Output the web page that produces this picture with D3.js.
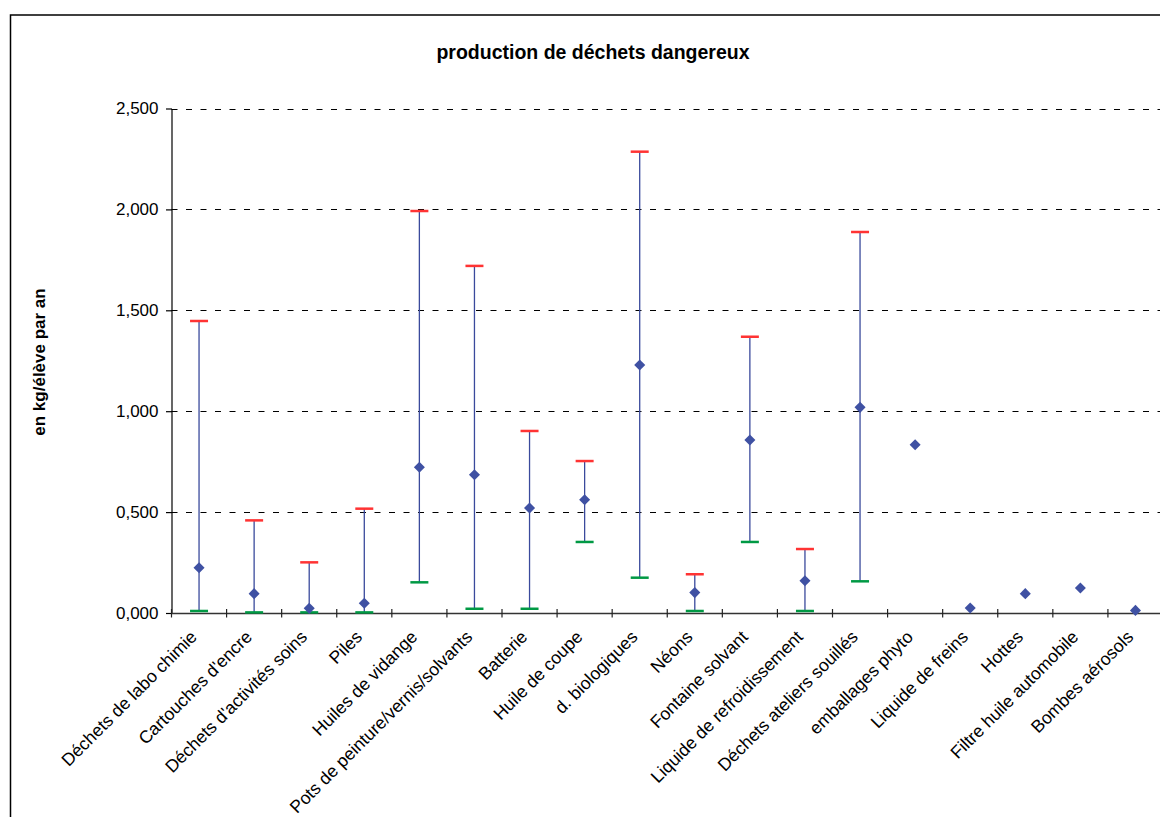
<!DOCTYPE html>
<html>
<head>
<meta charset="utf-8">
<script src="https://cdn.jsdelivr.net/npm/d3@7"></script>
<style>
  html, body { margin: 0; padding: 0; background: #fff; }
  svg { display: block; }
  text { font-family: "Liberation Sans", Arial, sans-serif; fill: #000; }
</style>
</head>
<body>
<svg id="chart" width="1160" height="817"></svg>
<script>
const categories = [
  "Déchets de labo chimie", "Cartouches d'encre", "Déchets d'activités soins", "Piles",
  "Huiles de vidange", "Pots de peinture/vernis/solvants", "Batterie", "Huile de coupe",
  "d. biologiques", "Néons", "Fontaine solvant", "Liquide de refroidissement",
  "Déchets ateliers souillés", "emballages phyto", "Liquide de freins", "Hottes",
  "Filtre huile automobile", "Bombes aérosols"
];
const highValues = [1.447, 0.459, 0.251, 0.517, 1.992, 1.720, 0.902, 0.753, 2.286, 0.192, 1.369, 0.317, 1.888, null, null, null, null, null];
const lowValues  = [0.010, 0.003, 0.003, 0.003, 0.152, 0.021, 0.021, 0.352, 0.175, 0.010, 0.352, 0.010, 0.157, null, null, null, null, null];
const meanValues = [0.224, 0.096, 0.023, 0.048, 0.722, 0.685, 0.520, 0.561, 1.229, 0.101, 0.857, 0.160, 1.019, 0.834, 0.025, 0.096, 0.124, 0.013];
const yTicks = [0, 0.5, 1.0, 1.5, 2.0, 2.5];
const titleText = "production de déchets dangereux";
const yTitleText = "en kg/élève par an";

const svg = d3.select("#chart");
const pLeft = 171.5, pRight = 1163, pTop = 108.5, pBottom = 613;

const x = d3.scaleBand().domain(categories).range([pLeft, pRight]).padding(0);
const y = d3.scaleLinear().domain([0, 2.5]).range([pBottom, pTop]);
const locale = d3.formatLocale({decimal: ",", thousands: ".", grouping: [3], currency: ["", "€"]});
const fmt = locale.format(".3f");

// outer border
svg.append("rect")
  .attr("x", 10.5).attr("y", 15).attr("width", 1200).attr("height", 900)
  .attr("fill", "none").attr("stroke", "#000").attr("stroke-width", 1.5);

// gridlines
svg.append("g").selectAll("line").data(yTicks.filter(d => d > 0)).join("line")
  .attr("x1", pLeft).attr("x2", pRight)
  .attr("y1", d => Math.round(y(d)) + 0.5).attr("y2", d => Math.round(y(d)) + 0.5)
  .attr("stroke", "#000").attr("stroke-width", 1).attr("stroke-dasharray", "6,8.5");

// y axis
const yAxis = d3.axisLeft(y).tickValues(yTicks).tickFormat(fmt).tickSizeInner(5).tickSizeOuter(0).tickPadding(8);
const gy = svg.append("g").attr("transform", `translate(${pLeft},0)`).call(yAxis);
gy.select(".domain").attr("stroke", "#000").attr("stroke-width", 1.2);
gy.selectAll(".tick line").attr("stroke", "#000").attr("stroke-width", 1.2).attr("x1", 0.5).attr("x2", -5.5);
gy.selectAll(".tick text").attr("font-size", 17).attr("font-family", "Liberation Sans, Arial, sans-serif").attr("fill", "#000");

// x axis
const xAxis = d3.axisBottom(x).tickValues([]).tickSizeOuter(0);
const gx = svg.append("g").attr("transform", `translate(0,${pBottom})`).call(xAxis);
gx.select(".domain").attr("stroke", "#333").attr("stroke-width", 1.5);
const boundaries = d3.range(categories.length + 1).map(i => pLeft + i * x.step());
gx.selectAll("line.bt").data(boundaries).join("line").attr("class", "bt")
  .attr("x1", d => d).attr("x2", d => d).attr("y1", -4).attr("y2", 4.5)
  .attr("stroke", "#222").attr("stroke-width", 1.2);

// category labels
gx.selectAll("text.cat").data(categories).join("text").attr("class", "cat")
  .attr("text-anchor", "end")
  .attr("font-size", 17.6)
  .attr("transform", d => `translate(${x(d) + x.bandwidth() / 2 - 1},${25}) rotate(-45)`)
  .text(d => d);

// hi-lo lines
const idx = d3.range(categories.length);
const cx = i => x(categories[i]) + x.bandwidth() / 2;
const hl = idx.filter(i => highValues[i] != null);
svg.append("g").selectAll("line").data(hl).join("line")
  .attr("x1", i => cx(i)).attr("x2", i => cx(i))
  .attr("y1", i => y(highValues[i])).attr("y2", i => y(lowValues[i]))
  .attr("stroke", "#3a4a9c").attr("stroke-width", 1.3);
svg.append("g").selectAll("line").data(hl).join("line")
  .attr("x1", i => cx(i) - 9).attr("x2", i => cx(i) + 9)
  .attr("y1", i => y(highValues[i])).attr("y2", i => y(highValues[i]))
  .attr("stroke", "#ff3333").attr("stroke-width", 2.5);
svg.append("g").selectAll("line").data(hl).join("line")
  .attr("x1", i => cx(i) - 9).attr("x2", i => cx(i) + 9)
  .attr("y1", i => y(lowValues[i])).attr("y2", i => y(lowValues[i]))
  .attr("stroke", "#009944").attr("stroke-width", 2.5);
const diamond = d3.symbol().type(d3.symbolDiamond2).size(78);
svg.append("g").selectAll("path").data(idx).join("path")
  .attr("d", diamond)
  .attr("transform", i => `translate(${cx(i)},${y(meanValues[i])})`)
  .attr("fill", "#3f51a3");

// titles
svg.append("text").attr("x", 593).attr("y", 59).attr("text-anchor", "middle")
  .attr("font-size", 19.5).attr("font-weight", "bold").text(titleText);
svg.append("text").attr("transform", "translate(45,362) rotate(-90)").attr("text-anchor", "middle")
  .attr("font-size", 17).attr("font-weight", "bold").text(yTitleText);
</script>
</body>
</html>
